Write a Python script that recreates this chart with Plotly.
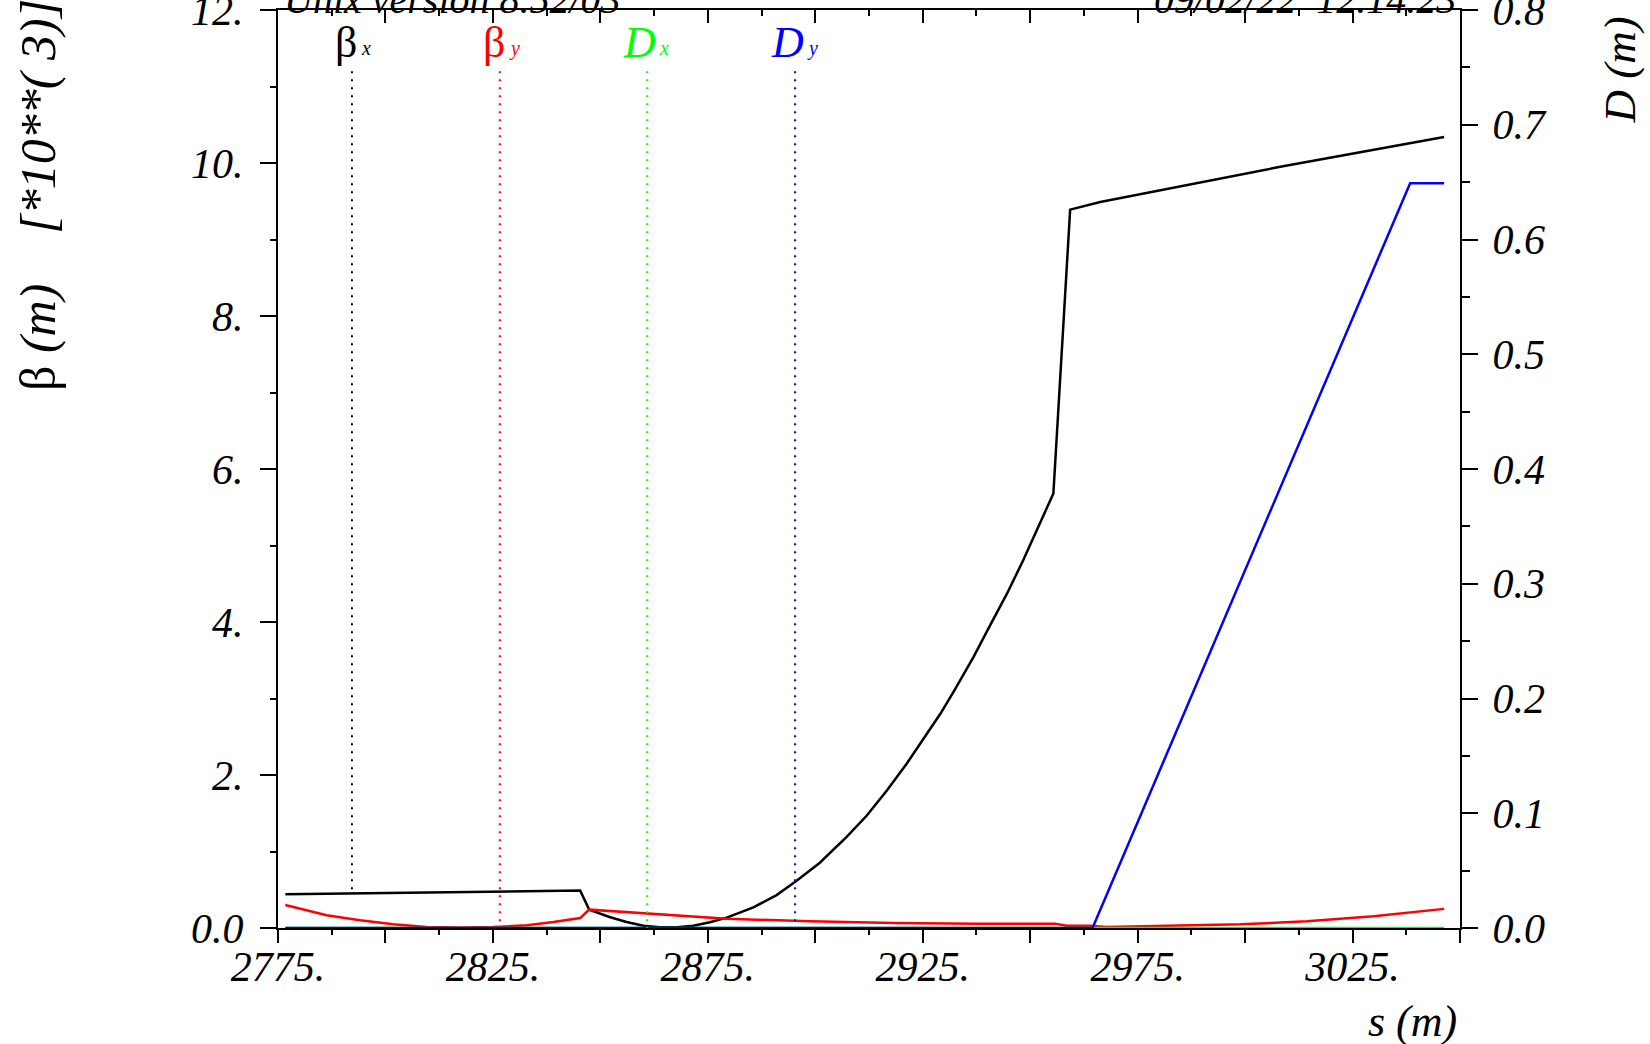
import numpy as np
import plotly.graph_objects as go

# ---------------- data ----------------
s_betx = [2776.7, 2845.3, 2847.4, 2852.3, 2856.1, 2860.0, 2863.9, 2867.8, 2871.6,
          2875.5, 2879.4, 2885.6, 2891.0, 2895.5, 2901.0, 2907.3, 2912.0, 2916.7,
          2921.3, 2925.2, 2929.1, 2932.2, 2936.8, 2940.7, 2944.6, 2948.4, 2950.8,
          2955.4, 2959.3, 2966.3, 3008.2, 3046.3]
betx = [0.44, 0.49, 0.24, 0.14, 0.078, 0.03, 0.01, 0.01, 0.03,
        0.075, 0.136, 0.27, 0.43, 0.61, 0.85, 1.19, 1.47, 1.80,
        2.15, 2.48, 2.80, 3.09, 3.54, 3.96, 4.37, 4.81, 5.11,
        5.68, 9.39, 9.49, 9.95, 10.34]

s_bety = [2776.7, 2786.3, 2794.1, 2801.8, 2809.6, 2817.4, 2825.1, 2832.9, 2839.1,
          2845.3, 2847.4, 2860.0, 2879.4, 2898.8, 2918.2, 2937.6, 2955.8, 2958.5,
          2964.0, 2967.8, 2983.4, 2998.9, 3014.4, 3029.9, 3046.3]
bety = [0.30, 0.166, 0.10, 0.048, 0.013, 0.005, 0.013, 0.035, 0.078,
        0.13, 0.24, 0.19, 0.12, 0.088, 0.065, 0.055, 0.055, 0.03,
        0.03, 0.013, 0.026, 0.048, 0.088, 0.153, 0.25]

s_dx = [2776.7, 3046.3]
dx = [0.0, 0.0]

s_dy = [2776.7, 2964.5, 3038.4, 3046.3]
dy = [0.0, 0.0, 0.649, 0.649]

label_s = [2792.2, 2826.6, 2860.9, 2895.3]
label_main = ["β", "β", "D", "D"]
label_sub = ["x", "y", "x", "y"]
label_colors = ["#000000", "#ff0000", "#00ff00", "#0000ff"]

x_tickvals = list(range(2775, 3051, 25))
x_ticktext = [f"{v}." if (v - 2775) % 50 == 0 else "" for v in x_tickvals]
y_tickvals = [0, 2, 4, 6, 8, 10, 12]
y_ticktext = ["0.0", "2.", "4.", "6.", "8.", "10.", "12."]
y2_tickvals = [0.0, 0.1, 0.2, 0.3, 0.4, 0.5, 0.6, 0.7, 0.8]
y2_ticktext = ["0.0", "0.1", "0.2", "0.3", "0.4", "0.5", "0.6", "0.7", "0.8"]

title_left = "Unix version 8.52/03"
title_right = "09/02/22\u00a0\u00a012.14.23"

# ---------------- layout geometry ----------------
W, H = 1650, 1044
PL, PT, PW, PH = 278, 10, 1182, 918
FONT = "Liberation Serif"


def pxx(x):
    return (x - PL) / PW


def pxy(y):
    return (PT + PH - y) / PH


fig = go.Figure()

fig.add_trace(go.Scatter(x=s_betx, y=betx, mode="lines", line=dict(color="#000000", width=2.5),
                         xaxis="x", yaxis="y", showlegend=False, hoverinfo="skip"))
fig.add_trace(go.Scatter(x=s_bety, y=bety, mode="lines", line=dict(color="#ff0000", width=2.5),
                         xaxis="x", yaxis="y", showlegend=False, hoverinfo="skip"))
fig.add_trace(go.Scatter(x=s_dx, y=dx, mode="lines", line=dict(color="#00ff00", width=2.5),
                         xaxis="x2", yaxis="y2", showlegend=False, hoverinfo="skip"))
fig.add_trace(go.Scatter(x=s_dy, y=dy, mode="lines", line=dict(color="#0000ff", width=2.5),
                         xaxis="x2", yaxis="y2", showlegend=False, hoverinfo="skip"))

# dotted label markers, from label to the curve value
BTOP = 11.2
DTOP = BTOP * 0.8 / 12
series = [(s_betx, betx, "y", BTOP), (s_bety, bety, "y", BTOP), (s_dx, dx, "y2", DTOP), (s_dy, dy, "y2", DTOP)]
for i, (ss, vv, ya, top) in enumerate(series):
    bot = float(np.interp(label_s[i], ss, vv))
    fig.add_trace(go.Scatter(x=[label_s[i], label_s[i]], y=[top, bot], mode="lines",
                             line=dict(color=label_colors[i], width=2, dash="2px,6px"),
                             xaxis="x" if ya == "y" else "x2", yaxis=ya,
                             showlegend=False, hoverinfo="skip"))

annotations = []
for i in range(4):
    is_beta = label_main[i] == "β"
    annotations.append(dict(
        text=label_main[i], xref="x", yref="paper", x=label_s[i], y=pxy(42),
        xanchor="right", yanchor="middle", xshift=7 if is_beta else 11, showarrow=False,
        font=dict(family=FONT, size=44, color=label_colors[i],
                  style="normal" if is_beta else "italic")))
    annotations.append(dict(
        text=label_sub[i], xref="x", yref="paper", x=label_s[i], y=pxy(48),
        xanchor="left", yanchor="middle", xshift=7 if is_beta else 10, showarrow=False,
        font=dict(family=FONT, size=20, color=label_colors[i], style="italic")))

annotations += [
    dict(text=title_left, xref="paper", yref="paper", x=pxx(282), y=pxy(24),
         xanchor="left", yanchor="bottom", showarrow=False,
         font=dict(family=FONT, size=40, color="black", style="italic")),
    dict(text=title_right, xref="paper", yref="paper", x=pxx(1458), y=pxy(24),
         xanchor="right", yanchor="bottom", showarrow=False,
         font=dict(family=FONT, size=40, color="black", style="italic")),
    dict(text="β\u00a0<i>(m)</i>" + "\u00a0" * 4 + "<i>[*10**(\u00a03)]</i>",
         xref="paper", yref="paper", x=pxx(38), y=pxy(393), textangle=-90,
         xanchor="center", yanchor="bottom", showarrow=False,
         font=dict(family=FONT, size=50, color="black")),
    dict(text="D\u00a0(m)", xref="paper", yref="paper", x=pxx(1619), y=pxy(126), textangle=-90,
         xanchor="center", yanchor="bottom", showarrow=False,
         font=dict(family=FONT, size=45, color="black", style="italic")),
    dict(text="s\u00a0(m)", xref="paper", yref="paper", x=pxx(1459), y=pxy(1021),
         xanchor="right", yanchor="middle", showarrow=False,
         font=dict(family=FONT, size=44, color="black", style="italic")),
]

tickfont = dict(family=FONT, size=42, color="black", style="italic")
XR = [2775, 3050]

fig.update_layout(
    width=W, height=H, autosize=False,
    margin=dict(l=PL, r=W - PL - PW, t=PT, b=H - PT - PH, pad=0, autoexpand=False),
    paper_bgcolor="white", plot_bgcolor="white",
    showlegend=False,
    annotations=annotations,
    xaxis=dict(range=XR, showgrid=False, zeroline=False, showline=True, linecolor="black", linewidth=2,
               tickmode="array", tickvals=x_tickvals, ticktext=x_ticktext, ticks="outside",
               ticklen=13, tickwidth=2, tickcolor="black", tickfont=tickfont, ticklabelstandoff=-12,
               ticklabeloverflow="allow", automargin=False,
               minor=dict(tick0=2775, dtick=12.5, ticks="outside", ticklen=5, tickwidth=2, tickcolor="black",
                          showgrid=False),
               anchor="y"),
    xaxis2=dict(range=XR, overlaying="x", side="top", anchor="y2", showgrid=False, zeroline=False,
                showline=True, linecolor="black", linewidth=2, automargin=False,
                tickmode="array", tickvals=x_tickvals, ticks="inside", ticklen=13, tickwidth=2,
                tickcolor="black", showticklabels=False,
                minor=dict(tick0=2775, dtick=12.5, ticks="inside", ticklen=6, tickwidth=2, tickcolor="black",
                           showgrid=False)),
    yaxis=dict(range=[0, 12], showgrid=False, zeroline=False, showline=True, linecolor="black", linewidth=2,
               tickmode="array", tickvals=y_tickvals, ticktext=y_ticktext, ticks="outside",
               ticklen=16, tickwidth=2, tickcolor="black", tickfont=tickfont, ticklabelstandoff=8,
               ticklabeloverflow="allow", automargin=False,
               minor=dict(dtick=1, ticks="outside", ticklen=6, tickwidth=2, tickcolor="black", showgrid=False),
               anchor="x"),
    yaxis2=dict(range=[0, 0.8], overlaying="y", side="right", anchor="x2", showgrid=False, zeroline=False,
                showline=True, linecolor="black", linewidth=2,
                tickmode="array", tickvals=y2_tickvals, ticktext=y2_ticktext, ticks="outside",
                ticklen=16, tickwidth=2, tickcolor="black", tickfont=tickfont, ticklabelstandoff=6,
                ticklabeloverflow="allow", automargin=False,
                minor=dict(dtick=0.05, ticks="outside", ticklen=8, tickwidth=2, tickcolor="black", showgrid=False)),
)

fig.write_html("out.html", config={"displayModeBar": False},
               post_script="document.body.style.margin='0px';")
